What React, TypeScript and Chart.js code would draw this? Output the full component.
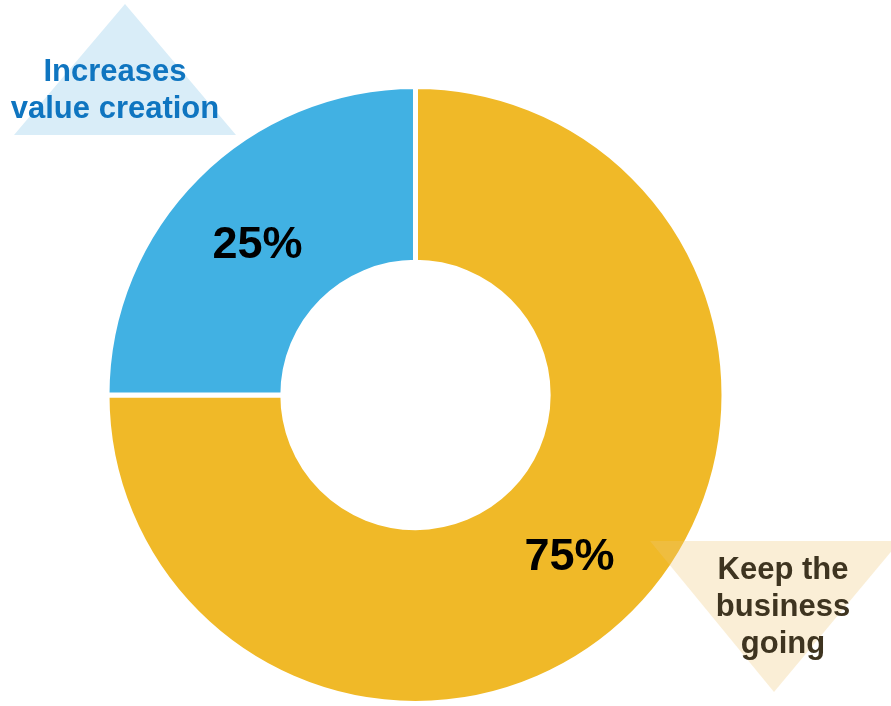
import React, { useEffect, useRef } from "react";
import { Chart, registerables } from "chart.js";

Chart.register(...registerables);

const categories = ["Keep the business going", "Increases value creation"];
const values = [75, 25];
const valueLabels = ["75%", "25%"];
const colors = ["#f0b928", "#41b1e3"];

const FONT = "Arial, \"Liberation Sans\", Helvetica, sans-serif";

const overlayPlugin = {
  id: "overlay",
  beforeDatasetsDraw(chart: any) {
    const ctx = chart.ctx;
    ctx.save();
    // light blue triangle (top-left)
    ctx.fillStyle = "#d9edf8";
    ctx.beginPath();
    ctx.moveTo(125, 4);
    ctx.lineTo(236, 135);
    ctx.lineTo(14, 135);
    ctx.closePath();
    ctx.fill();
    ctx.fillStyle = "#0f75c0";
    ctx.font = `bold 31px ${FONT}`;
    ctx.textAlign = "center";
    ctx.textBaseline = "alphabetic";
    ctx.fillText("Increases", 115, 81);
    ctx.fillText("value creation", 115, 118);
    ctx.restore();
  },
  afterDatasetsDraw(chart: any) {
    const ctx = chart.ctx;
    ctx.save();
    const meta = chart.getDatasetMeta(0);
    ctx.fillStyle = "#000";
    ctx.font = `bold 45px ${FONT}`;
    ctx.textAlign = "center";
    ctx.textBaseline = "alphabetic";
    meta.data.forEach((arc: any, i: number) => {
      const p = arc.getCenterPoint();
      ctx.fillText(valueLabels[i], p.x - 2, p.y + 19);
    });
    // beige triangle (bottom-right), semi-transparent
    ctx.fillStyle = "rgba(240,200,120,0.3)";
    ctx.beginPath();
    ctx.moveTo(650, 541);
    ctx.lineTo(900, 541);
    ctx.lineTo(774, 692);
    ctx.closePath();
    ctx.fill();
    ctx.fillStyle = "#3e3420";
    ctx.font = `bold 31px ${FONT}`;
    ctx.textAlign = "center";
    ctx.fillText("Keep the", 783, 579);
    ctx.fillText("business", 783, 616);
    ctx.fillText("going", 783, 653);
    ctx.restore();
  },
};

export default function App() {
  const ref = useRef<HTMLCanvasElement>(null);
  useEffect(() => {
    if (!ref.current) return;
    const chart = new Chart(ref.current, {
      type: "doughnut",
      data: {
        labels: categories,
        datasets: [
          {
            data: values,
            backgroundColor: colors,
            borderColor: "#ffffff",
            borderWidth: 5,
            hoverOffset: 0,
          },
        ],
      },
      options: {
        responsive: false,
        animation: false,
        cutout: "43%",
        layout: { padding: { left: 102, right: 162, top: 84, bottom: -5 } },
        plugins: {
          legend: { display: false },
          tooltip: { enabled: false },
        },
      },
      plugins: [overlayPlugin],
    });
    return () => chart.destroy();
  }, []);
  return (
    <div style={{ position: "absolute", left: 0, top: 0, width: 891, height: 706 }}>
      <canvas ref={ref} width={891} height={706} />
    </div>
  );
}
